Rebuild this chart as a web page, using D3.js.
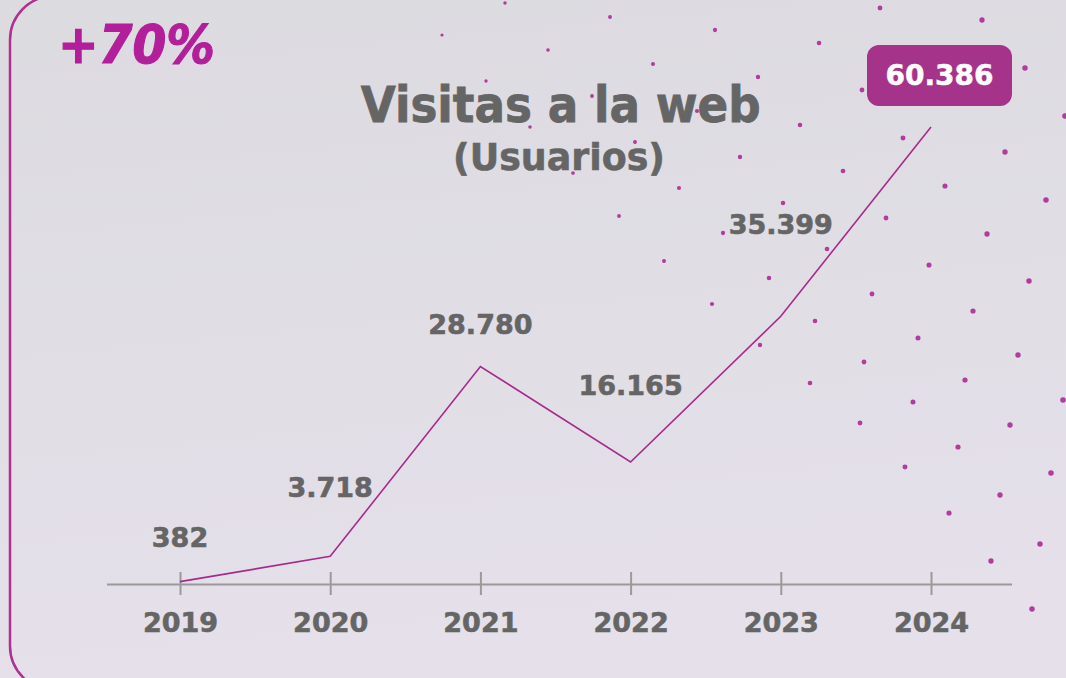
<!DOCTYPE html>
<html lang="es">
<head>
    <meta charset="UTF-8">
    <title>Visitas a la web</title>
    <script src="https://d3js.org/d3.v7.min.js"></script>
    <style>
        html, body { margin: 0; padding: 0; background: #dedce2; overflow: hidden; }
        svg { display: block; }
        text { font-family: "DejaVu Sans", sans-serif; font-weight: bold; }
    </style>
</head>
<body>
    <div id="chart"></div>
    <script type="text/javascript">
        // chart data
        const years = ["2019", "2020", "2021", "2022", "2023", "2024"];
        const visits = [382, 3718, 28780, 16165, 35399, 60386];
        const titleText = "Visitas a la web";
        const subtitleText = "(Usuarios)";
        const growthText = "+70%";

        // how far above each point its value label sits (last one goes in the box)
        const labelLift = [35, 59, 32, 67, 82];

        // decorative dot pattern in the background (pixel positions)
        const sparkles = [
            [880, 8], [982, 20],
            [505, 3], [610, 17], [715, 30], [819, 43], [1025, 68],
            [442, 35], [486, 81], [530, 127], [573, 173], [619, 216], [664, 261], [712, 304],
            [760, 345], [810, 383], [860, 423], [905, 467], [949, 513], [991, 561], [1032, 609],
            [548, 50], [592, 96], [635, 142], [679, 188], [723, 233], [769, 278], [815, 321],
            [864, 362], [913, 402], [958, 447], [1000, 495], [1040, 544],
            [653, 64], [697, 111], [740, 157], [783, 203], [827, 249], [872, 294], [918, 338],
            [965, 380], [1010, 425], [1051, 473],
            [758, 77], [800, 125], [843, 171], [886, 218], [929, 265], [973, 311], [1018, 355], [1063, 400],
            [862, 90], [903, 138], [945, 186], [987, 234], [1029, 281],
            [1005, 152], [1046, 200], [1065, 116]
        ];

        const width = 1066, height = 678;
        const grey = "#656565", purple = "#a62a8b";

        const es = d3.formatLocale({decimal: ",", thousands: ".", grouping: [3], currency: ["", "€"]});
        const fmt = es.format(",d");

        const svg = d3.select("#chart").append("svg")
            .attr("width", width)
            .attr("height", height);

        const grad = svg.append("defs").append("linearGradient")
            .attr("id", "bg").attr("x1", 0).attr("y1", 0).attr("x2", 0.15).attr("y2", 1);
        grad.append("stop").attr("offset", "0%").attr("stop-color", "#dcdbe0");
        grad.append("stop").attr("offset", "100%").attr("stop-color", "#e5e0ea");

        svg.append("rect")
            .attr("width", width).attr("height", height)
            .attr("fill", "url(#bg)");

        // rounded frame, only its left side shows
        svg.append("rect")
            .attr("x", 10).attr("y", -4)
            .attr("width", 1200).attr("height", 694)
            .attr("rx", 44)
            .attr("fill", "none")
            .attr("stroke", "#b0308f")
            .attr("stroke-width", 2.5);

        const r = d3.scaleLinear().domain([440, 1066]).range([1.6, 2.8]);
        svg.append("g").selectAll("circle")
            .data(sparkles)
            .join("circle")
            .attr("cx", d => d[0])
            .attr("cy", d => d[1])
            .attr("r", d => r(d[0]))
            .attr("fill", "#b03c9e");

        const x = d3.scalePoint().domain(years).range([180, 931]);
        const y = d3.scaleLinear().domain([0, 60386]).range([584.5, 127]);

        // baseline + ticks
        svg.append("line")
            .attr("x1", 107).attr("x2", 1012)
            .attr("y1", 584.5).attr("y2", 584.5)
            .attr("stroke", "#9a9a9a").attr("stroke-width", 2);

        const axis = svg.append("g")
            .attr("transform", "translate(0,572)")
            .call(d3.axisBottom(x).tickSize(23).tickSizeOuter(0));
        axis.select(".domain").remove();
        axis.selectAll(".tick line").attr("stroke", "#9a9a9a").attr("stroke-width", 2);
        axis.selectAll(".tick text")
            .attr("y", 60).attr("dy", null)
            .attr("fill", grey)
            .attr("stroke", grey).attr("stroke-width", 0.6)
            .style("font-size", "27px")
            .style("font-family", "'DejaVu Sans', sans-serif")
            .style("font-weight", "bold");

        const line = d3.line()
            .x((d, i) => x(years[i]))
            .y(d => y(d));

        svg.append("path")
            .datum(visits)
            .attr("d", line)
            .attr("fill", "none")
            .attr("stroke", purple)
            .attr("stroke-width", 1.6);

        // value labels
        svg.append("g").selectAll("text")
            .data(visits.slice(0, 5))
            .join("text")
            .attr("x", (d, i) => x(years[i]))
            .attr("y", (d, i) => y(d) - labelLift[i])
            .attr("text-anchor", "middle")
            .attr("fill", grey)
            .attr("stroke", grey).attr("stroke-width", 0.6)
            .style("font-size", "27px")
            .text(d => fmt(d));

        // highlighted last value
        const last = visits.length - 1;
        const bx = x(years[last]) + 8.5, by = y(visits[last]) - 51.5;
        svg.append("rect")
            .attr("x", bx - 72.5).attr("y", by - 30.5)
            .attr("width", 145).attr("height", 61)
            .attr("rx", 12)
            .attr("fill", "#a6338a");
        svg.append("text")
            .attr("x", bx).attr("y", by + 9)
            .attr("text-anchor", "middle")
            .attr("fill", "#ffffff")
            .attr("stroke", "#ffffff").attr("stroke-width", 0.5)
            .style("font-size", "28px")
            .text(fmt(visits[last]));

        // titles
        svg.append("text")
            .attr("x", 560.7).attr("y", 121.7)
            .attr("text-anchor", "middle")
            .attr("fill", grey)
            .attr("stroke", grey).attr("stroke-width", 0.8)
            .attr("textLength", 400).attr("lengthAdjust", "spacingAndGlyphs")
            .style("font-size", "50px")
            .text(titleText);
        svg.append("text")
            .attr("x", 559).attr("y", 170)
            .attr("text-anchor", "middle")
            .attr("fill", grey)
            .attr("stroke", grey).attr("stroke-width", 0.6)
            .attr("textLength", 212).attr("lengthAdjust", "spacingAndGlyphs")
            .style("font-size", "38px")
            .text(subtitleText);

        svg.append("text")
            .attr("x", 58).attr("y", 63)
            .attr("fill", "#b31f9a")
            .attr("stroke", "#b31f9a").attr("stroke-width", 1.2)
            .attr("textLength", 157).attr("lengthAdjust", "spacingAndGlyphs")
            .style("font-size", "54px")
            .style("font-style", "italic")
            .text(growthText);
    </script>
</body>
</html>
